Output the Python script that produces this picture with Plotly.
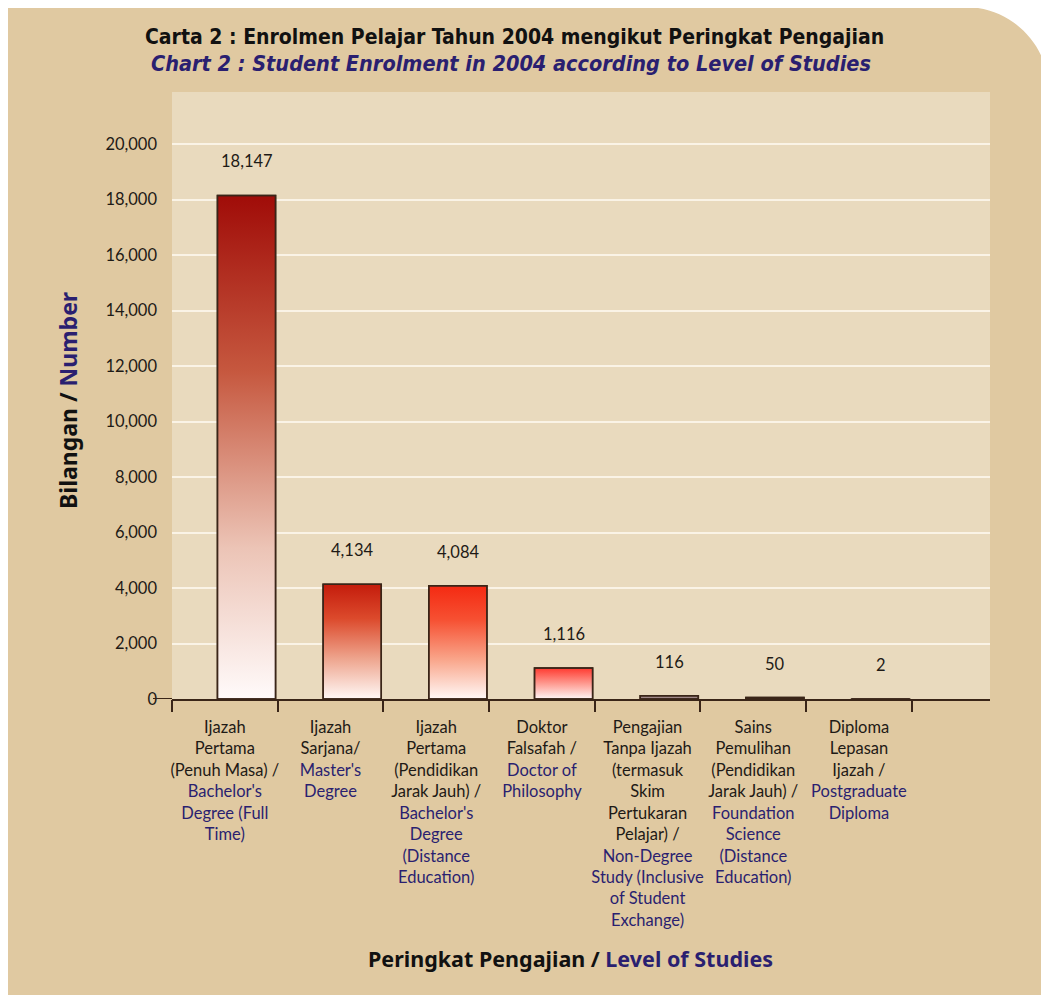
import plotly.graph_objects as go

# ---------------- data ----------------
labels_ms = [
    "Ijazah<br>Pertama<br>(Penuh Masa) /",
    "Ijazah<br>Sarjana/",
    "Ijazah<br>Pertama<br>(Pendidikan<br>Jarak Jauh) /",
    "Doktor<br>Falsafah /",
    "Pengajian<br>Tanpa Ijazah<br>(termasuk<br>Skim<br>Pertukaran<br>Pelajar) /",
    "Sains<br>Pemulihan<br>(Pendidikan<br>Jarak Jauh) /",
    "Diploma<br>Lepasan<br>Ijazah /",
]
labels_en = [
    "Bachelor's<br>Degree (Full<br>Time)",
    "Master's<br>Degree",
    "Bachelor's<br>Degree<br>(Distance<br>Education)",
    "Doctor of<br>Philosophy",
    "Non-Degree<br>Study (Inclusive<br>of Student<br>Exchange)",
    "Foundation<br>Science<br>(Distance<br>Education)",
    "Postgraduate<br>Diploma",
]
enrolment = [18147, 4134, 4084, 1116, 116, 50, 2]
value_labels = ["18,147", "4,134", "4,084", "1,116", "116", "50", "2"]
y_ticks = [0, 2000, 4000, 6000, 8000, 10000, 12000, 14000, 16000, 18000, 20000]

# ---------------- style ----------------
NAVY = "#2a1f70"
DARK = "#3a2518"
PANEL = "#e0c9a1"
PLOTBG = "#e9dabe"
FONT = "Lato"
AFONT = "Noto Sans"
TFONT = "Liberation Sans Narrow, Arial Narrow, DejaVu Sans Condensed, sans-serif"
bar_scales = [
    [[0, "#fffafa"], [0.3, "#ecc4b6"], [0.65, "#c6583f"], [1, "#a00c08"]],
    [[0, "#fff8f6"], [0.35, "#eea58e"], [0.7, "#dc4a2c"], [1, "#c41c0c"]],
    [[0, "#fff8f6"], [0.35, "#f9a58a"], [0.7, "#f65032"], [1, "#f42a12"]],
    [[0, "#fff6f6"], [0.5, "#fe9a90"], [1, "#ff3a30"]],
    [[0, "#a08888"], [1, "#a08888"]],
    [[0, "#4a2020"], [1, "#4a2020"]],
    [[0, "#201010"], [1, "#201010"]],
]
BAR_W = 0.55
BAR_OFF = -0.07

OFF = 8                      # page body margin
W, H = 1049 - OFF, 995 - OFF
# plot area in screen pixels
L, R, T, B = 172, 990, 92, 699


def px_x(px):
    return (px - L) / (R - L)


def px_y(py):
    return (B - py) / (B - T)


ticktext = [
    f"{ms}<br>" + "<br>".join(f"<span style='color:{NAVY}'>{s}</span>" for s in en.split("<br>"))
    for ms, en in zip(labels_ms, labels_en)
]
pos = list(range(len(enrolment)))

fig = go.Figure()

# gradient-filled bar bodies (built from the data values)
for i, v in zip(pos, enrolment):
    x0, x1 = i + BAR_OFF, i + BAR_OFF + BAR_W
    fig.add_trace(go.Scatter(
        x=[x0, x1, x1, x0, x0], y=[0, 0, v, v, 0],
        mode="lines", fill="toself",
        fillgradient=dict(type="vertical", colorscale=bar_scales[i]),
        line=dict(color=DARK, width=1.5),
        hoverinfo="skip", showlegend=False,
    ))

# bar trace (outline + hover), drawn on overlaying boundary-tick axis
fig.add_trace(go.Bar(
    x=pos, y=enrolment, width=BAR_W, offset=BAR_OFF,
    marker=dict(color="rgba(0,0,0,0)", line=dict(color=DARK, width=1.5)),
    hovertext=value_labels, hoverinfo="text", showlegend=False,
    xaxis="x2",
))

annotations = []
for i, (v, t) in enumerate(zip(enrolment, value_labels)):
    annotations.append(dict(
        x=i + BAR_OFF + BAR_W / 2, y=v, xref="x", yref="y", text=t,
        showarrow=False, yshift=34, font=dict(family=FONT, size=16.5, color="#1e1a16"),
    ))

common = dict(xref="paper", yref="paper", showarrow=False, xanchor="center", yanchor="middle")
annotations += [
    dict(x=px_x(514), y=px_y(37), **common,
         text="<b>Carta 2 : Enrolmen Pelajar Tahun 2004 mengikut Peringkat Pengajian</b>",
         font=dict(family=TFONT, size=21, color="#111111")),
    dict(x=px_x(511), y=px_y(64), **common,
         text="<b><i>Chart 2 : Student Enrolment in 2004 according to Level of Studies</i></b>",
         font=dict(family=TFONT, size=21.5, color=NAVY)),
    dict(x=px_x(570), y=px_y(958), **common,
         text=f"<b>Peringkat Pengajian / <span style='color:{NAVY}'>Level of Studies</span></b>",
         font=dict(family=AFONT, size=21.5, color="#111111")),
    dict(x=px_x(68), y=px_y(401), **common, textangle=-90,
         text=f"<b>Bilangan / <span style='color:{NAVY}'>Number</span></b>",
         font=dict(family=AFONT, size=23, color="#111111")),
]

# white area outside the panel's rounded top-right corner
k = 0.5523
cx0, cy0, r = 965, 7, 84
RE = 1049
corner = (
    f"M {px_x(cx0)} {px_y(cy0 - 10)} L {px_x(RE + 10)} {px_y(cy0 - 10)} L {px_x(RE + 10)} {px_y(cy0 + r)} "
    f"L {px_x(RE)} {px_y(cy0 + r)} "
    f"C {px_x(RE)} {px_y(cy0 + r - k * r)} {px_x(cx0 + k * r)} {px_y(cy0)} {px_x(cx0)} {px_y(cy0)} Z"
)
shapes = [
    dict(type="path", xref="paper", yref="paper", path=corner,
         fillcolor="white", line=dict(width=0), layer="above"),
    dict(type="line", xref="paper", yref="y", x0=px_x(153), x1=0, y0=0, y1=0,
         line=dict(color=DARK, width=2)),
]

xrange = [-0.5, 7.24]
fig.update_layout(
    width=W, height=H,
    margin=dict(l=L - OFF, r=W - (R - OFF), t=T - OFF, b=H - (B - OFF), pad=0),
    paper_bgcolor=PANEL, plot_bgcolor=PLOTBG,
    font=dict(family=FONT, size=16, color="#1e1a16"),
    showlegend=False,
    annotations=annotations, shapes=shapes,
    xaxis=dict(range=xrange, tickvals=pos, ticktext=ticktext, ticks="",
               showgrid=False, zeroline=False, showline=True, linecolor=DARK, linewidth=2,
               tickfont=dict(family=FONT, size=16.5, color="#1e1a16"),
               ticklabelstandoff=12, fixedrange=True),
    xaxis2=dict(range=xrange, overlaying="x", side="bottom", anchor="y",
                tickvals=[p - 0.5 for p in pos] + [len(pos) - 0.5],
                ticks="outside", ticklen=12, tickwidth=2, tickcolor=DARK,
                showticklabels=False, showgrid=False, zeroline=False, showline=False,
                fixedrange=True),
    yaxis=dict(range=[0, 21874], tickvals=y_ticks, tickformat=",d", ticks="",
               showgrid=True, gridcolor="#faf3e6", gridwidth=2, zeroline=False,
               showline=False, tickfont=dict(family=FONT, size=16.5, color="#1e1a16"),
               ticklabelstandoff=14, fixedrange=True),
)

fig.write_html("out.html")
